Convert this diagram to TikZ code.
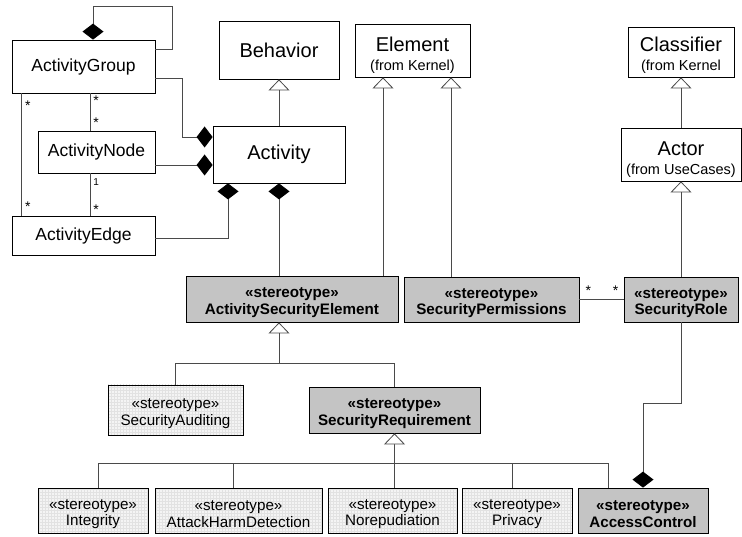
\documentclass[tikz,border=0pt]{standalone}
\usepackage{fontspec}
\setmainfont{Liberation Sans}
\usetikzlibrary{arrows.meta,positioning,calc,patterns}
\definecolor{wire}{HTML}{4A4A4A}
\definecolor{darkst}{HTML}{C4C4C4}
\definecolor{lightst}{HTML}{F4F4F4}
\definecolor{gridst}{HTML}{E2E2E2}
\newcommand{\bigfont}{\fontsize{20}{21}\selectfont}
\newcommand{\midfont}{\fontsize{17.5}{19}\selectfont}
\newcommand{\stfont}{\fontsize{15.2}{16.5}\selectfont}
\newcommand{\subfont}{\fontsize{14.5}{16}\selectfont}
\newcommand{\multfont}{\fontsize{14}{14}\selectfont}
\newcommand{\sthead}{\rule{0pt}{17pt}«stereotype»}
\newcommand{\toppad}{\rule{0pt}{24pt}}
\tikzset{
  umlclass/.style={draw=black,fill=white,line width=0.8pt,align=center,inner sep=0pt},
  stdark/.style={umlclass,fill=darkst,font=\stfont\bfseries},
  stlight/.style={umlclass,preaction={fill=lightst},pattern=grid,pattern color=gridst,
                  font=\stfont},
  wireline/.style={draw=wire,line width=0.8pt},
  genarr/.style={wireline,-{Triangle[open,length=11pt,width=21pt,fill=white]}},
  comparr/.style={wireline,-{Diamond[length=16pt,width=21pt,color=black]}},
  mult/.style={font=\multfont,inner sep=1pt}
}
\begin{document}
\begin{tikzpicture}[x=1pt,y=-1pt]
  \useasboundingbox (0,0) rectangle (742,537);
  % activity metaclasses
  \node[umlclass,minimum width=143pt,minimum height=53pt,font=\midfont] (grp) at (83.5,66.5) {ActivityGroup};
  \node[umlclass,minimum width=117pt,minimum height=42pt,font=\midfont] (anode) at (96.5,152) {ActivityNode};
  \node[umlclass,minimum width=143pt,minimum height=39pt,font=\midfont] (edge) at (83.5,235.5) {ActivityEdge};
  \node[umlclass,minimum width=132pt,minimum height=57pt,font=\bigfont] (act) at (279,154.5) {Activity};
  \node[umlclass,minimum width=120pt,minimum height=58pt,font=\bigfont] (beh) at (279,50) {Behavior};
  \node[umlclass,minimum width=115pt,minimum height=53pt,font=\bigfont] (elem) at (412.5,50.5)
    {\toppad Element\\[-1.5pt]{\subfont (from Kernel)}};
  \node[umlclass,minimum width=106pt,minimum height=50pt,font=\bigfont] (clsf) at (681,52)
    {\rule{0pt}{21pt}Classifier\\[-1.5pt]{\subfont (from Kernel}};
  \node[umlclass,minimum width=120pt,minimum height=53pt,font=\bigfont] (actor) at (681,154.5)
    {\toppad Actor\\[-1.5pt]{\subfont (from UseCases)}};
  % security stereotypes
  \node[stdark,minimum width=212pt,minimum height=46pt] (ase) at (292,299) {\sthead\\ActivitySecurityElement};
  \node[stdark,minimum width=175pt,minimum height=45pt] (sperm) at (491.5,299.5) {\sthead\\SecurityPermissions};
  \node[stdark,minimum width=114pt,minimum height=45pt] (srole) at (681,299.5) {\sthead\\SecurityRole};
  \node[stlight,minimum width=135pt,minimum height=50pt] (saud) at (175.5,410) {\sthead\\SecurityAuditing};
  \node[stdark,minimum width=171pt,minimum height=46pt] (sreq) at (394.5,410) {\sthead\\SecurityRequirement};
  \node[stlight,minimum width=110pt,minimum height=45pt] (integ) at (93,510.5) {\sthead\\Integrity};
  \node[stlight,minimum width=167pt,minimum height=45pt] (ahd) at (238.5,510.5) {\sthead\\AttackHarmDetection};
  \node[stlight,minimum width=129pt,minimum height=45pt] (norep) at (392.5,510.5) {\sthead\\Norepudiation};
  \node[stlight,minimum width=110pt,minimum height=45pt] (priv) at (517,510.5) {\sthead\\Privacy};
  \node[stdark,minimum width=130pt,minimum height=45pt] (acc) at (643,510.5) {\sthead\\AccessControl};
  % helper points
  \coordinate (gnX) at ([xshift=6.5pt]grp.south);
  \coordinate (anE) at ([yshift=-13pt]anode.east);
  \coordinate (elemL) at ([xshift=-29.5pt]elem.south);
  \coordinate (elemR) at ([xshift=38.5pt]elem.south);
  \coordinate (genj) at ($(ase.south -| act.south)+(0,41)$);
  \coordinate (spec) at ($(sreq.south)+(0,30)$);
  \coordinate (accL) at ([xshift=-35pt]acc.north);
  % activity associations
  \draw[comparr] ([yshift=-10pt]grp.north east) -- ++(17,0) -- ++(0,-43) -| ([xshift=9.5pt]grp.north);
  \draw[wireline] ([xshift=10pt]grp.south west)
    -- node[mult,pos=0.1,right=2pt]{*} node[mult,pos=0.93,right=2pt]{*} ([xshift=10pt]edge.north west);
  \draw[wireline] (gnX) -- node[mult,pos=0.2,right=2pt]{*} node[mult,pos=0.8,right=2pt]{*} (gnX |- anode.north);
  \draw[wireline] (anode.south -| gnX)
    -- node[mult,pos=0.2,right=2pt,font=\fontsize{10}{10}\selectfont]{1} node[mult,pos=0.86,right=2pt]{*} (edge.north -| gnX);
  \draw[comparr] ([yshift=-11.5pt]grp.east) -- ++(27,0) |- ([yshift=17.5pt]act.west);
  \draw[comparr] (anE) -- (anE -| act.west);
  \draw[comparr] ([yshift=-2.5pt]edge.east) -| ([xshift=-51pt]act.south);
  \draw[genarr] (act.north) -- (beh.south);
  % stereotype relations
  \draw[comparr] (ase.north -| act.south) -- (act.south);
  \draw[genarr] (ase.north -| elemL) -- (elemL);
  \draw[genarr] (sperm.north -| elemR) -- (elemR);
  \draw[genarr] (actor.north) -- (clsf.south);
  \draw[genarr] (srole.north) -- (actor.south);
  \draw[wireline] (sperm.east)
    -- node[mult,pos=0.2,above=3pt]{*} node[mult,pos=0.82,above=3pt]{*} (srole.west);
  \draw[wireline] (saud.north) |- (sreq.north |- genj) -- (sreq.north);
  \draw[genarr] (genj) -- (genj |- ase.south);
  \draw[wireline] ([xshift=5pt]integ.north) |- (accL |- spec) -- (accL);
  \foreach \n/\s in {ahd/-5.5,norep/1.5,priv/-5}{
    \coordinate (t\n) at ([xshift=\s pt]\n.north);
    \draw[wireline] (t\n) -- (t\n |- spec);
  }
  \draw[genarr] (spec) -- (sreq.south);
  \draw[comparr] (srole.south) -- ++(0,81) -| (acc.north);
\end{tikzpicture}
\end{document}
